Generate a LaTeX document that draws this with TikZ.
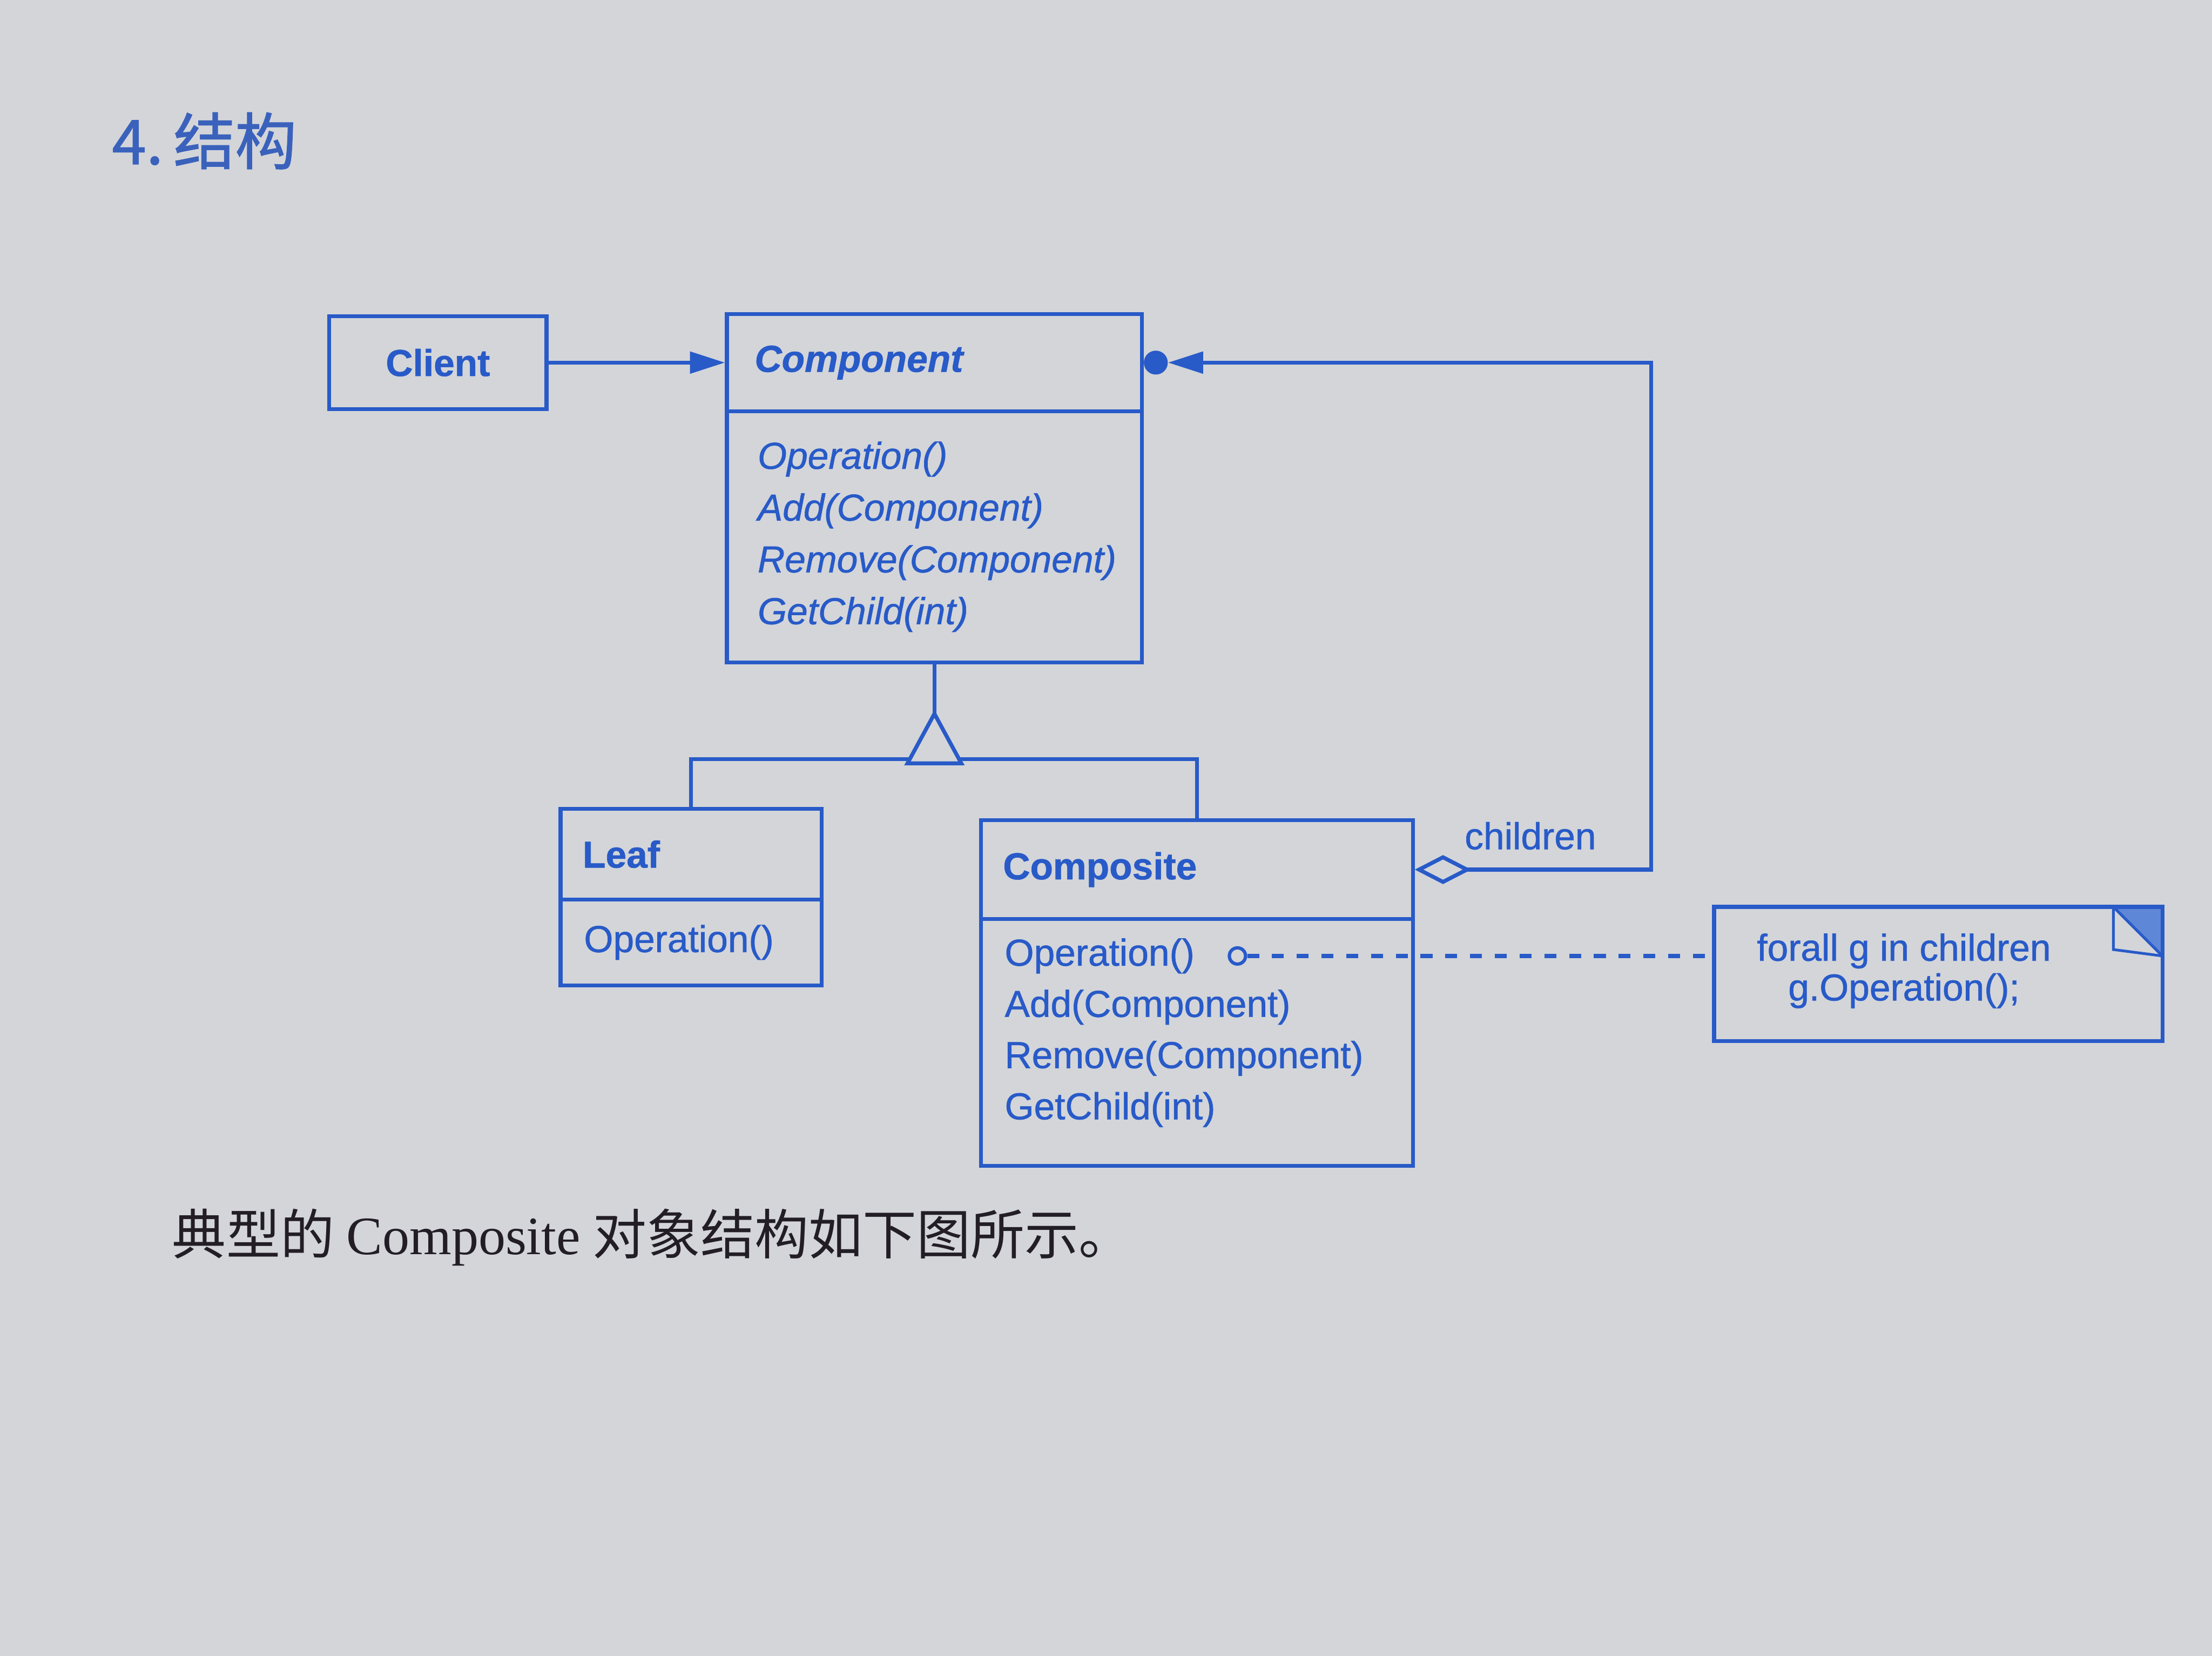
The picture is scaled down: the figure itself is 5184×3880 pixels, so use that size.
\documentclass[tikz,border=0pt]{standalone}
\usepackage{fontspec}
\usetikzlibrary{arrows.meta,calc}
\newfontfamily\umlfont[FakeBold=0.9]{Liberation Sans}
\newfontfamily\cjkfont{Noto Sans CJK SC}
\newfontfamily\cjktitle[FakeBold=1.2]{Noto Sans CJK SC}
\newfontfamily\capserif{Liberation Serif}
\definecolor{umlblue}{RGB}{40,90,200}
\definecolor{titleblue}{RGB}{58,98,188}
\definecolor{paper}{RGB}{211,213,217}
\definecolor{ink}{RGB}{35,30,38}
\definecolor{foldblue}{RGB}{95,135,215}
\begin{document}
\begin{tikzpicture}[x=0.01cm,y=-0.01cm,
  umlline/.style={draw=umlblue, line width=2.6pt, line join=miter},
  compart/.style={umlline, rectangle, anchor=north west, inner sep=0pt},
  txt/.style={inner sep=0pt, text=umlblue, font=\umlfont\fontsize{25}{34.5}\selectfont},
  txtb/.style={inner sep=0pt, text=umlblue, font=\umlfont\bfseries\fontsize{25}{30}\selectfont},
  txtbi/.style={inner sep=0pt, text=umlblue, font=\umlfont\bfseries\itshape\fontsize{25}{30}\selectfont},
  txti/.style={inner sep=0pt, text=umlblue, font=\umlfont\itshape\fontsize{25}{34.5}\selectfont},
  notetxt/.style={inner sep=0pt, text=umlblue, align=center, font=\umlfont\fontsize{25}{26.5}\selectfont}
]
\useasboundingbox (0,0) rectangle (5184,3880);
\fill[paper] (0,0) rectangle (5184,3880);

% title
\node[anchor=west, inner sep=0pt, text=titleblue, font=\cjktitle\fontsize{41}{41}\selectfont] (title) at (262,330) {4.\,结构};

% Client
\node[compart, minimum width=5.09cm, minimum height=2.18cm] (client) at (767,736) {};
\node[txtb] (clientT) at (client.center) {Client};

% Component
\node[compart, minimum width=9.72cm, minimum height=2.28cm] (compH) at (1699,731) {};
\node[compart, minimum width=9.72cm, minimum height=5.88cm] (compB) at (1699,959) {};
\node[txtbi, anchor=west] (compT) at ($(compH.west)+(69,0)$) {Component};
\node[txti, anchor=west, align=left] (compM) at ($(compB.west)+(76,0)$) {Operation()\\Add(Component)\\Remove(Component)\\GetChild(int)};

% Leaf
\node[compart, minimum width=6.12cm, minimum height=2.12cm] (leafH) at (1309,1891) {};
\node[compart, minimum width=6.12cm, minimum height=2.01cm] (leafB) at (1309,2103) {};
\node[txtb, anchor=west] (leafT) at ($(leafH.west)+(56,0)$) {Leaf};
\node[txt, anchor=west] (leafOp) at ($(leafB.west)+(59,0)$) {Operation()};

% Composite
\node[compart, minimum width=10.12cm, minimum height=2.32cm] (compoH) at (2294,1917) {};
\node[compart, minimum width=10.12cm, minimum height=5.78cm] (compoB) at (2294,2149) {};
\node[txtb, anchor=west] (compoT) at ($(compoH.west)+(56,0)$) {Composite};
\node[txt, anchor=west] (compoOp) at (2354,2240) {Operation()};
\node[txt, anchor=west] (compoAdd) at (2354,2360) {Add(Component)};
\node[txt, anchor=west] (compoRem) at (2354,2480) {Remove(Component)};
\node[txt, anchor=west] (compoGet) at (2354,2600) {GetChild(int)};
\node[circle, draw=umlblue, line width=2.2pt, fill=paper, minimum size=0.38cm, inner sep=0pt] (opdot) at ($(compoOp.east)+(100,0)$) {};

% Note
\node[compart, draw=none, minimum width=10.41cm, minimum height=3.05cm] (note) at (4017,2125) {};
\fill[foldblue] (note.north east) -- ++(-115,0) -- ++(115,115) -- cycle;
\draw[umlline, line width=1.8pt] ($(note.north east)+(-115,0)$) -- ++(0,100) -- ($(note.north east)+(0,115)$);
\draw[umlline, line width=1.8pt] ($(note.north east)+(-115,0)$) -- ($(note.north east)+(0,115)$);
\draw[umlline] (note.north west) rectangle (note.south east);
\node[notetxt] (noteT) at (4462,2275) {forall g in children\\g.Operation();};

% Client -> Component
\draw[umlline, -{Triangle[length=0.82cm,width=0.5cm]}] (client.east) -- (client.east -| compH.west);

% inheritance
\coordinate (apex) at ($(compB.south)+(0,116)$);
\draw[umlline] (compB.south) -- (apex);
\draw[umlline] (leafH.north) -- ++(0,-112) -| (compoH.north);
\draw[umlline, fill=paper] (apex) -- ++(-63,116) -- ++(126,0) -- cycle;

% aggregation children
\node[circle, fill=umlblue, minimum size=0.56cm, inner sep=0pt] (dotC) at ($(compH.east)+(28,0)$) {};
\draw[umlline, {Diamond[open,length=1.32cm,width=0.68cm]}-{Triangle[length=0.82cm,width=0.5cm]}] (compoH.east) -| ($(dotC.east)+(1132,0)$) -- (dotC.east);
\node[txt, anchor=base west] (childlbl) at (3432,1990) {children};

% dashed link to note
\draw[umlline, dash pattern=on 0.28cm off 0.3cm] (opdot.east) -- (opdot.east -| note.west);

% caption
\node[anchor=west, inner sep=0pt, text=ink, font=\cjkfont\fontsize{36}{36}\selectfont] (caption) at (403,2900) {典型的 {\capserif Composite} 对象结构如下图所示。};
\end{tikzpicture}
\end{document}
